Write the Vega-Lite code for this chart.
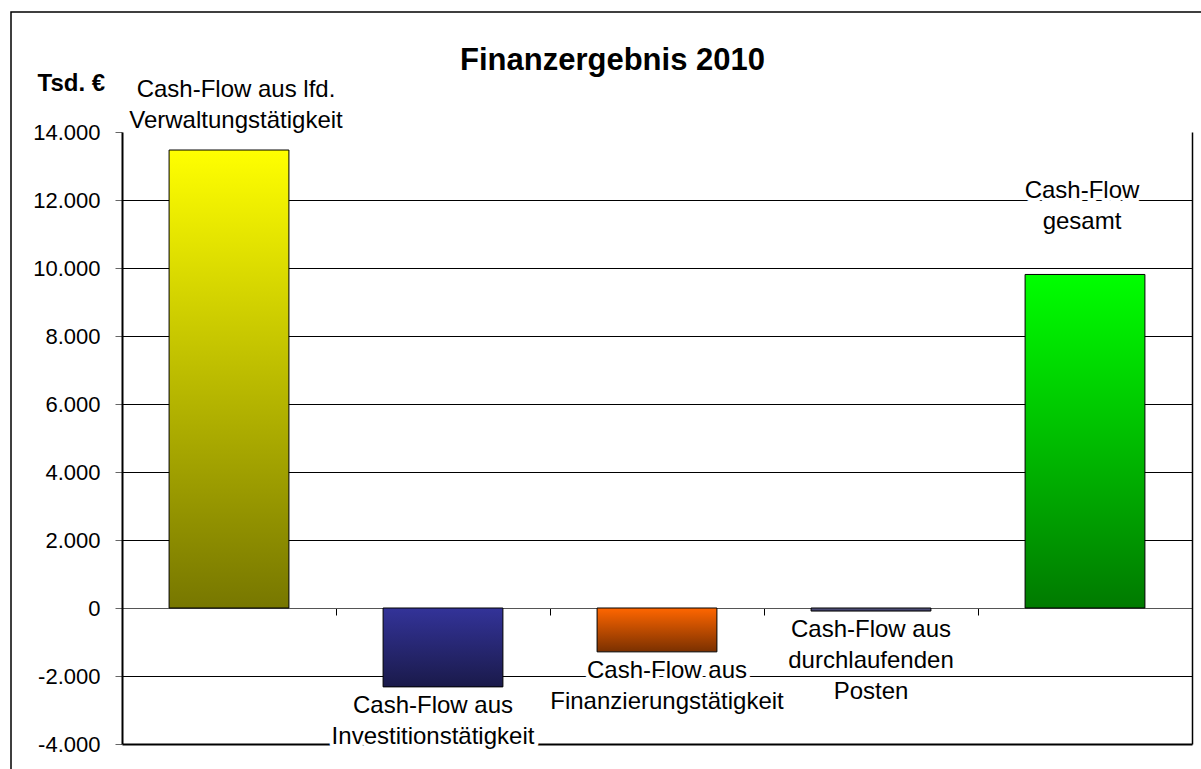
{
  "$schema": "https://vega.github.io/schema/vega-lite/v6.json",
  "autosize": "none",
  "width": 1195,
  "height": 762,
  "padding": {"left": 11, "top": 12, "right": -5, "bottom": -5},
  "background": "white",
  "title": {"text": "Finanzergebnis 2010", "font": "Liberation Sans", "fontSize": 31, "fontWeight": "bold", "color": "black", "anchor": "middle", "frame": "group", "baseline": "alphabetic", "offset": 0, "dy": 89, "dx": 4},
  "config": {
    "locale": {"number": {"decimal": ",", "thousands": ".", "grouping": [3], "currency": ["", " €"], "minus": "-"}},
    "view": {"stroke": "black", "strokeWidth": 1.5},
    "font": "Liberation Sans"
  },
  "data": {"values": [
    {"k": "Verwaltung", "value": 13470, "label": "Cash-Flow aus lfd.\nVerwaltungstätigkeit"},
    {"k": "Investition", "value": -2320, "label": "Cash-Flow aus\nInvestitionstätigkeit"},
    {"k": "Finanzierung", "value": -1290, "label": "Cash-Flow aus\nFinanzierungstätigkeit"},
    {"k": "durchlaufend", "value": -90, "label": "Cash-Flow aus\ndurchlaufenden\nPosten"},
    {"k": "gesamt", "value": 9810, "label": "Cash-Flow\ngesamt"}
  ]},
  "encoding": {
    "x": {"field": "k", "type": "nominal", "sort": null,
      "scale": {"range": [111, 1181], "paddingInner": 0, "paddingOuter": 0},
      "axis": {"orient": "bottom", "offset": -166, "labels": false, "title": null, "grid": false, "tickBand": "extent", "tickSize": 7, "tickColor": "black", "tickWidth": 1, "domainColor": "#555", "domainWidth": 1}}
  },
  "layer": [
    {
      "mark": {"type": "bar", "width": {"band": 0.56}, "stroke": "black", "strokeWidth": 1},
      "encoding": {
        "y": {"field": "value", "type": "quantitative",
          "scale": {"domain": [-4000, 14000], "range": [732, 120], "nice": false, "zero": false},
          "axis": {"orient": "left", "offset": -111, "values": [-4000, -2000, 0, 2000, 4000, 6000, 8000, 10000, 12000, 14000], "format": ",d",
            "labelFont": "Liberation Sans", "labelFontSize": 22, "labelColor": "black", "labelPadding": 15,
            "tickSize": 7, "tickColor": "#666", "domainColor": "black", "domainWidth": 2,
            "grid": true, "gridColor": "black",
            "gridWidth": {"condition": {"test": "datum.value <= -4000", "value": 2}, "value": 1},
            "gridOpacity": {"condition": {"test": "datum.value >= 14000", "value": 0}, "value": 1},
            "title": "Tsd. €", "titleAngle": 0, "titleAlign": "left", "titleBaseline": "alphabetic", "titleX": -85, "titleY": 78,
            "titleFont": "Liberation Sans", "titleFontSize": 24, "titleFontWeight": "bold", "titleColor": "black"}},
        "y2": {"datum": 0},
        "fill": {"condition": [
          {"test": "datum.k === 'Verwaltung'", "value": {"gradient": "linear", "x1": 0, "y1": 0, "x2": 0, "y2": 1, "stops": [{"offset": 0, "color": "#ffff00"}, {"offset": 1, "color": "#777700"}]}},
          {"test": "datum.k === 'Investition'", "value": {"gradient": "linear", "x1": 0, "y1": 0, "x2": 0, "y2": 1, "stops": [{"offset": 0, "color": "#333399"}, {"offset": 1, "color": "#1a1a4a"}]}},
          {"test": "datum.k === 'Finanzierung'", "value": {"gradient": "linear", "x1": 0, "y1": 0, "x2": 0, "y2": 1, "stops": [{"offset": 0, "color": "#ff6600"}, {"offset": 1, "color": "#7a3000"}]}},
          {"test": "datum.k === 'durchlaufend'", "value": {"gradient": "linear", "x1": 0, "y1": 0, "x2": 0, "y2": 1, "stops": [{"offset": 0, "color": "#5a5a85"}, {"offset": 1, "color": "#3a3a60"}]}},
          {"test": "datum.k === 'gesamt'", "value": {"gradient": "linear", "x1": 0, "y1": 0, "x2": 0, "y2": 1, "stops": [{"offset": 0, "color": "#00ff00"}, {"offset": 1, "color": "#007a00"}]}}
        ], "value": "#888888"}
      }
    },
    {
      "encoding": {
        "y": {"field": "value", "type": "quantitative",
          "scale": {"domain": [-4000, 14000], "range": [732, 120], "nice": false, "zero": false},
          "axis": {"orient": "right", "offset": -14, "labels": false, "ticks": false, "grid": false, "domain": true, "domainColor": "black", "domainWidth": 1.5, "title": null}},
        "text": {"field": "label"}
      },
      "layer": [
        {"transform": [{"filter": "datum.k === 'Verwaltung'"}], "layer": [
          {"mark": {"type": "text", "lineBreak": "\n", "lineHeight": 31, "fontSize": 24, "baseline": "bottom", "dx": 7, "dy": -48, "fill": "white", "stroke": "white", "strokeWidth": 8, "strokeJoin": "round"}},
          {"mark": {"type": "text", "lineBreak": "\n", "lineHeight": 31, "fontSize": 24, "baseline": "bottom", "dx": 7, "dy": -48, "fill": "black"}}
        ]},
        {"transform": [{"filter": "datum.k === 'Investition'"}], "layer": [
          {"mark": {"type": "text", "lineBreak": "\n", "lineHeight": 31, "fontSize": 24, "baseline": "top", "dx": -10, "dy": 7, "fill": "white", "stroke": "white", "strokeWidth": 8, "strokeJoin": "round"}},
          {"mark": {"type": "text", "lineBreak": "\n", "lineHeight": 31, "fontSize": 24, "baseline": "top", "dx": -10, "dy": 7, "fill": "black"}}
        ]},
        {"transform": [{"filter": "datum.k === 'Finanzierung'"}], "layer": [
          {"mark": {"type": "text", "lineBreak": "\n", "lineHeight": 31, "fontSize": 24, "baseline": "top", "dx": 10, "dy": 7, "fill": "white", "stroke": "white", "strokeWidth": 8, "strokeJoin": "round"}},
          {"mark": {"type": "text", "lineBreak": "\n", "lineHeight": 31, "fontSize": 24, "baseline": "top", "dx": 10, "dy": 7, "fill": "black"}}
        ]},
        {"transform": [{"filter": "datum.k === 'durchlaufend'"}], "layer": [
          {"mark": {"type": "text", "lineBreak": "\n", "lineHeight": 31, "fontSize": 24, "baseline": "top", "dx": 0, "dy": 7, "fill": "white", "stroke": "white", "strokeWidth": 8, "strokeJoin": "round"}},
          {"mark": {"type": "text", "lineBreak": "\n", "lineHeight": 31, "fontSize": 24, "baseline": "top", "dx": 0, "dy": 7, "fill": "black"}}
        ]},
        {"transform": [{"filter": "datum.k === 'gesamt'"}], "layer": [
          {"mark": {"type": "text", "lineBreak": "\n", "lineHeight": 31, "fontSize": 24, "baseline": "bottom", "dx": -3, "dy": -71, "fill": "white", "stroke": "white", "strokeWidth": 8, "strokeJoin": "round"}},
          {"mark": {"type": "text", "lineBreak": "\n", "lineHeight": 31, "fontSize": 24, "baseline": "bottom", "dx": -3, "dy": -71, "fill": "black"}}
        ]}
      ]
    }
  ],
  "resolve": {"axis": {"y": "independent"}}
}
